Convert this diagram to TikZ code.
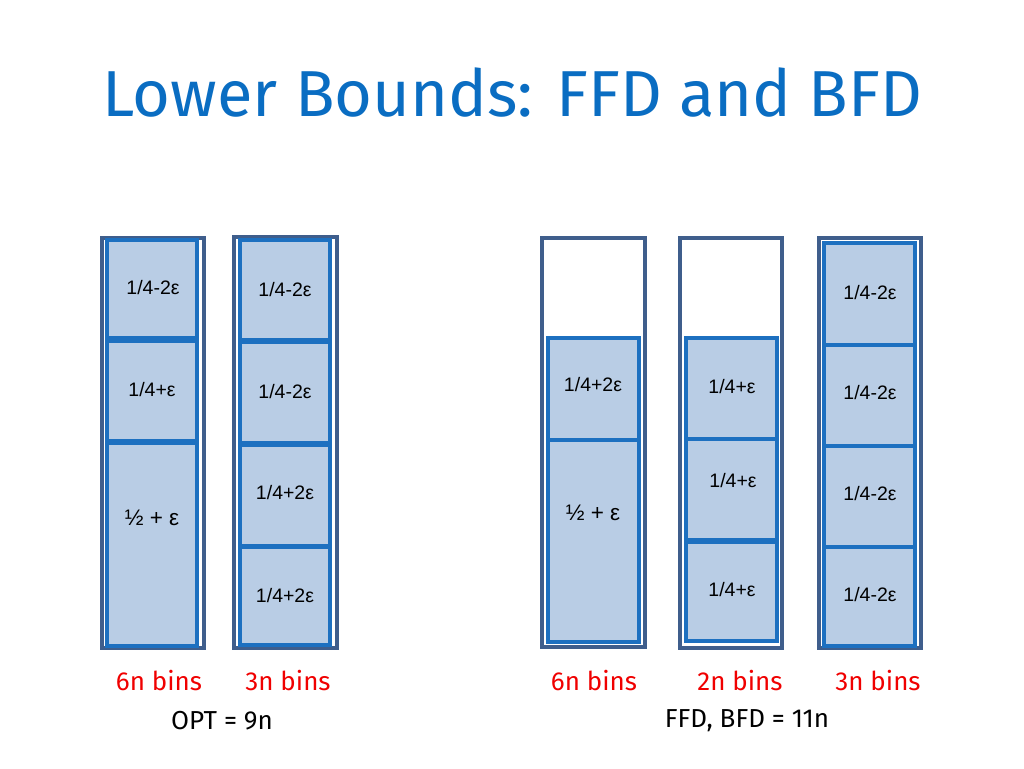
\documentclass[tikz,border=0pt]{standalone}
\usepackage{fontspec}
\setmainfont{Fira Sans}
\newfontfamily\boxfont{Liberation Sans}
\definecolor{titleblue}{HTML}{0A6DC2}
\definecolor{binedge}{HTML}{3F5E8C}
\definecolor{itemfill}{HTML}{B9CDE5}
\definecolor{itemedge}{HTML}{1D70C0}
\definecolor{labred}{HTML}{F00000}
\begin{document}
\begin{tikzpicture}[x=1pt,y=-1pt,
  binbox/.style={draw=binedge, line width=3.4pt, fill=white, inner sep=0pt, outer sep=0pt, anchor=north west},
  itembox/.style={draw=itemedge, line width=3.4pt, fill=itemfill, inner sep=0pt, outer sep=0pt, anchor=north west},
  itemtext/.style={font=\boxfont\fontsize{19.5}{22}\selectfont, inner sep=0pt},
  halftext/.style={font=\boxfont\fontsize{22.5}{26}\selectfont, inner sep=0pt},
  redlab/.style={font=\fontsize{26}{30}\selectfont, text=labred, inner sep=0pt},
  blacklab/.style={font=\fontsize{26}{30}\selectfont, text=black, inner sep=0pt}]
\useasboundingbox[fill=white] (0,0) rectangle (1024,768);
\node[font=\fontsize{65}{72}\selectfont, text=titleblue, inner sep=0pt] (title) at (512,93) {Lower Bounds: FFD and BFD};

% OPT bin type 1
\node[binbox, minimum width=102pt, minimum height=410pt] (b1) at (102,238) {};
\node[itembox, minimum width=90pt, minimum height=98pt] (b1a) at (107,240) {};
\node[itembox, minimum width=90pt, minimum height=100pt] (b1b) at (107,341) {};
\node[itembox, minimum width=90pt, minimum height=203pt] (b1c) at (107,443) {};
\node[itemtext] (t1a) at (153,288) {1/4-2ε};
\node[itemtext] (t1b) at (152,390) {1/4+ε};
\node[halftext] (t1c) at (152,518) {½ + ε};

% OPT bin type 2
\node[binbox, minimum width=103pt, minimum height=411pt] (b2) at (234,237) {};
\node[itembox, minimum width=90pt, minimum height=100pt] (b2a) at (240,240) {};
\node[itembox, minimum width=90pt, minimum height=101pt] (b2b) at (240,342) {};
\node[itembox, minimum width=90pt, minimum height=101pt] (b2c) at (240,445) {};
\node[itembox, minimum width=90pt, minimum height=98pt] (b2d) at (240,547) {};
\node[itemtext] (t2a) at (285,290) {1/4-2ε};
\node[itemtext] (t2b) at (285,392) {1/4-2ε};
\node[itemtext] (t2c) at (285,493) {1/4+2ε};
\node[itemtext] (t2d) at (285,596) {1/4+2ε};

% FFD bin type 1
\node[binbox, minimum width=103pt, minimum height=409pt] (b3) at (542,238) {};
\node[itembox, minimum width=91pt, minimum height=102pt] (b3a) at (548,338) {};
\node[itembox, minimum width=91pt, minimum height=202pt] (b3b) at (548,440) {};
\node[itemtext] (t3a) at (593,385) {1/4+2ε};
\node[halftext] (t3b) at (593,513) {½ + ε};

% FFD bin type 2
\node[binbox, minimum width=102pt, minimum height=410pt] (b4) at (680,238) {};
\node[itembox, minimum width=91pt, minimum height=101pt] (b4a) at (686,338) {};
\node[itembox, minimum width=91pt, minimum height=101pt] (b4b) at (686,439) {};
\node[itembox, minimum width=91pt, minimum height=99pt] (b4c) at (686,542) {};
\node[itemtext] (t4a) at (732,387) {1/4+ε};
\node[itemtext] (t4b) at (733,481) {1/4+ε};
\node[itemtext] (t4c) at (732,590) {1/4+ε};

% FFD bin type 3
\node[binbox, minimum width=102pt, minimum height=410pt] (b5) at (819,238) {};
\node[itembox, minimum width=91pt, minimum height=102pt] (b5a) at (824,243) {};
\node[itembox, minimum width=91pt, minimum height=101pt] (b5b) at (824,345) {};
\node[itembox, minimum width=91pt, minimum height=101pt] (b5c) at (824,446) {};
\node[itembox, minimum width=91pt, minimum height=99pt] (b5d) at (824,547) {};
\node[itemtext] (t5a) at (870,293) {1/4-2ε};
\node[itemtext] (t5b) at (870,393) {1/4-2ε};
\node[itemtext] (t5c) at (870,494) {1/4-2ε};
\node[itemtext] (t5d) at (870,595) {1/4-2ε};

% labels
\node[redlab] (l1) at (159,681) {6n bins};
\node[redlab] (l2) at (288,681) {3n bins};
\node[blacklab] (l3) at (222,721) {OPT = 9n};
\node[redlab] (l4) at (594,681) {6n bins};
\node[redlab] (l5) at (740,681) {2n bins};
\node[redlab] (l6) at (878,681) {3n bins};
\node[blacklab] (l7) at (747,721) {FFD, BFD = 11n};
\end{tikzpicture}
\end{document}
